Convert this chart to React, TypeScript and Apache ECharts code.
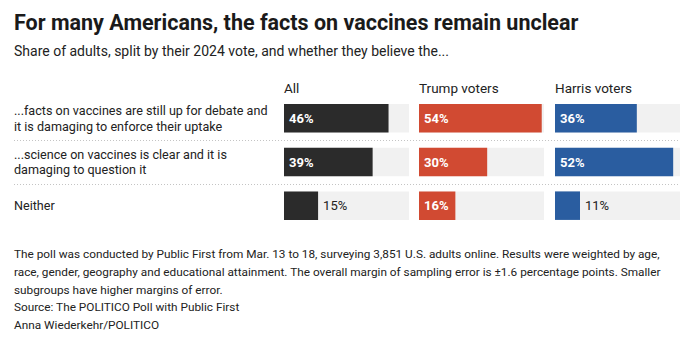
import React, { useEffect, useRef } from "react";
import * as echarts from "echarts";

const titleText = "For many Americans, the facts on vaccines remain unclear";
const subtitleText = "Share of adults, split by their 2024 vote, and whether they believe the...";
const rowLabels = [
  "...facts on vaccines are still up for debate and\nit is damaging to enforce their uptake",
  "...science on vaccines is clear and it is\ndamaging to question it",
  "Neither",
];
const groups = ["All", "Trump voters", "Harris voters"];
const allValues = [46, 39, 15];
const trumpValues = [54, 30, 16];
const harrisValues = [36, 52, 11];
const groupColors = ["#2b2b2b", "#d14a32", "#2a5da0"];
const footnoteLines = [
  "The poll was conducted by Public First from Mar. 13 to 18, surveying 3,851 U.S. adults online. Results were weighted by age,",
  "race, gender, geography and educational attainment. The overall margin of sampling error is \u00b11.6 percentage points. Smaller",
  "subgroups have higher margins of error.",
  "Source: The POLITICO Poll with Public First",
  "Anna Wiederkehr/POLITICO",
];

const FONT = "Roboto, 'Noto Sans', sans-serif";
const panelLefts = [284, 419, 555];
const panelWidth = 125;
const gridTop = 96.5;
const gridHeight = 131;
const xMax = 55;

export default function App() {
  const ref = useRef<HTMLDivElement>(null);
  useEffect(() => {
    if (!ref.current) return;
    const chart = echarts.init(ref.current, undefined, { renderer: "svg" });
    const seriesValues = [allValues, trumpValues, harrisValues];

    const grids: any[] = [
      { left: 14, width: 666, top: gridTop, height: gridHeight },
      ...panelLefts.map((l) => ({ left: l, width: panelWidth, top: gridTop, height: gridHeight })),
    ];
    const xAxes: any[] = grids.map((_, i) => ({
      type: "value",
      gridIndex: i,
      min: 0,
      max: xMax,
      show: false,
    }));
    const yAxes: any[] = [
      {
        type: "category",
        gridIndex: 0,
        data: rowLabels,
        inverse: true,
        axisLine: { show: false },
        axisTick: { show: false },
        axisLabel: {
          inside: true,
          align: "left",
          margin: 0,
          fontFamily: FONT,
          fontSize: 12.6,
          lineHeight: 15.5,
          color: "#222",
        },
        splitLine: {
          show: true,
          showMinLine: false,
          showMaxLine: false,
          lineStyle: { color: "#c4c4c4", type: [1, 2], width: 1 },
        },
      },
      ...panelLefts.map((_, i) => ({
        type: "category",
        gridIndex: i + 1,
        data: rowLabels,
        inverse: true,
        show: false,
      })),
    ];

    const series: any[] = seriesValues.map((vals, i) => ({
      type: "bar",
      xAxisIndex: i + 1,
      yAxisIndex: i + 1,
      barWidth: 28.5,
      showBackground: true,
      backgroundStyle: { color: "#f1f1f1" },
      itemStyle: { color: groupColors[i] },
      data: vals.map((v) => ({
        value: v,
        label:
          v >= 16
            ? {
                show: true,
                position: "insideLeft",
                distance: 5,
                color: "#fff",
                fontWeight: "bold",
                fontFamily: FONT,
                fontSize: 13,
                formatter: "{c}%",
              }
            : {
                show: true,
                position: "right",
                distance: 5,
                color: "#222",
                fontFamily: FONT,
                fontSize: 13,
                formatter: "{c}%",
              },
      })),
    }));

    const graphics: any[] = [
      {
        type: "text",
        x: 14,
        y: 22,
        style: {
          text: titleText,
          font: `bold 21.5px ${FONT}`,
          fill: "#1a1a1a",
          verticalAlign: "middle",
        },
      },
      {
        type: "text",
        x: 14,
        y: 51,
        style: {
          text: subtitleText,
          font: `14px ${FONT}`,
          fill: "#222",
          verticalAlign: "middle",
        },
      },
      ...groups.map((g, i) => ({
        type: "text",
        x: panelLefts[i],
        y: 88,
        style: { text: g, font: `13.5px ${FONT}`, fill: "#222", verticalAlign: "middle" },
      })),
      {
        type: "text",
        x: 14,
        y: 245,
        style: {
          text: footnoteLines.join("\n"),
          font: `11.8px ${FONT}`,
          lineHeight: 17.8,
          fill: "#222",
          verticalAlign: "top",
        },
      },
    ];

    chart.setOption({
      animation: false,
      backgroundColor: "#fff",
      grid: grids,
      xAxis: xAxes,
      yAxis: yAxes,
      series,
      graphic: graphics,
    });
    return () => chart.dispose();
  }, []);
  return (
    <div
      ref={ref}
      style={{ position: "fixed", left: 0, top: 0, width: 694, height: 344 }}
    />
  );
}
